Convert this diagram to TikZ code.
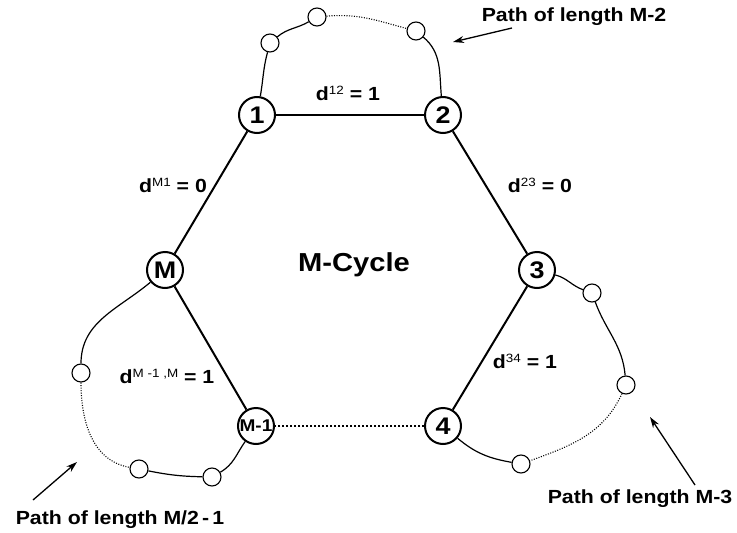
\documentclass[tikz,border=0pt]{standalone}
\usepackage{fontspec}
\setmainfont{Liberation Sans}[FakeStretch=1.12]
\usetikzlibrary{arrows.meta}
\newcommand{\sups}[1]{\raisebox{5.5pt}{\fontsize{12}{12}\selectfont\mdseries #1}}
\tikzset{
  mainnode/.style={circle, draw, line width=2pt, minimum size=36pt, inner sep=0pt, fill=white,
    font=\fontsize{24}{24}\selectfont\bfseries},
  smallnode/.style={circle, draw, line width=1.1pt, minimum size=18pt, inner sep=0pt, fill=white},
  edge/.style={line width=2pt},
  curve/.style={line width=1.2pt},
  dotcurve/.style={line width=1.1pt, dash pattern=on 1pt off 1.5pt},
  arr/.style={line width=1.3pt, -{Stealth[length=11pt,width=7pt]}},
  lbl/.style={font=\fontsize{19}{19}\selectfont\bfseries, anchor=base, inner sep=0pt},
}
\begin{document}
\begin{tikzpicture}[x=1pt,y=1pt]
\useasboundingbox (0,0) rectangle (737,-533);
% main nodes
\node[mainnode] (n1) at (257,-115) {1};
\node[mainnode] (n2) at (443,-115) {2};
\node[mainnode] (n3) at (537,-270) {3};
\node[mainnode] (n4) at (443,-426) {4};
\node[mainnode, font=\fontsize{17}{17}\selectfont\bfseries] (nm1) at (256,-426) {M-1};
\node[mainnode] (nm) at (165,-270) {M};
% small nodes
\node[smallnode] (t1) at (270,-43) {};
\node[smallnode] (t2) at (317,-17) {};
\node[smallnode] (t3) at (416,-31) {};
\node[smallnode] (r1) at (592,-293) {};
\node[smallnode] (r2) at (626,-385) {};
\node[smallnode] (r3) at (521,-464) {};
\node[smallnode] (l1) at (81,-373) {};
\node[smallnode] (l2) at (139,-469) {};
\node[smallnode] (l3) at (212,-477) {};
% cycle edges
\draw[edge] (n1) -- (n2);
\draw[edge] (n2) -- (n3);
\draw[edge] (n3) -- (n4);
\draw[edge, dash pattern=on 2pt off 2pt] (n4) -- (nm1);
\draw[edge] (nm1) -- (nm);
\draw[edge] (nm) -- (n1);
% top path
\draw[curve] (n1) to[out=80, in=-105] (t1);
\draw[curve] (t1) to[out=40, in=-150] (t2);
\draw[dotcurve] (t2) to[out=5, in=165] (t3);
\draw[curve] (t3) to[out=-40, in=95] (n2);
% right path
\draw[curve] (n3) to[out=-15, in=160] (r1);
\draw[curve] (r1) to[out=-70, in=95] (r2);
\draw[dotcurve] (r2) to[out=-115, in=20] (r3);
\draw[curve] (r3) to[out=170, in=-40] (n4);
% left path
\draw[curve] (nm) to[out=-140, in=90] (l1);
\draw[dotcurve] (l1) to[out=-90, in=170] (l2);
\draw[curve] (l2) to[bend right=5] (l3);
\draw[curve] (l3) to[out=30, in=-125] (nm1);
% labels
\node[lbl] (d12) at (348,-100) {d\sups{12} = 1};
\node[lbl] (dm1) at (173,-192) {d\sups{M1} = 0};
\node[lbl] (d23) at (540,-192) {d\sups{23} = 0};
\node[lbl] (d34) at (525,-368) {d\sups{34} = 1};
\node[lbl] (dmm) at (167,-383) {d\sups{M -1 ,M} = 1};
\node[lbl, font=\fontsize{26}{26}\selectfont\bfseries] (cyc) at (354,-271) {M-Cycle};
\node[lbl] (p2) at (574,-21) {Path of length M-2};
\node[lbl] (p3) at (640,-503) {Path of length M-3};
\node[lbl] (p1) at (120,-524) {Path of length M/2\,-\,1};
% arrows
\coordinate (a2s) at (512,-28);
\coordinate (a2e) at (453,-42);
\coordinate (a3s) at (695,-485);
\coordinate (a3e) at (650,-417);
\coordinate (a1s) at (33,-500);
\coordinate (a1e) at (77,-462);
\draw[arr] (a2s) -- (a2e);
\draw[arr] (a3s) -- (a3e);
\draw[arr] (a1s) -- (a1e);
\end{tikzpicture}
\end{document}
